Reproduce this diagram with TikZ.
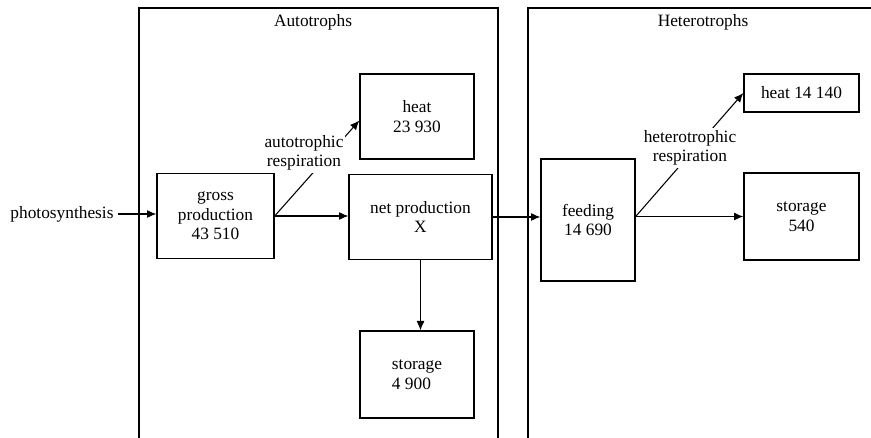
\documentclass[tikz,border=0pt]{standalone}
\usepackage{fontspec}
\setmainfont{Liberation Serif}
\usetikzlibrary{arrows.meta}
\tikzset{
  txt/.style={font=\fontsize{13}{14.6}\selectfont, align=center},
  blk/.style={txt, draw, line width=1pt, inner sep=2pt},
  lbl/.style={txt, fill=white, inner sep=1.5pt},
  flow/.style={-{Latex[length=7pt,width=6pt]}, line width=0.8pt}
}
\begin{document}
\begin{tikzpicture}[x=0.75pt, y=-0.75pt]
\useasboundingbox (0,0) rectangle (871,438);
\draw[line width=1pt] (139,440) |- (498,8) -- (498,440);
\draw[line width=1pt] (528,440) |- (872,8);
\node[txt] (AUT) at (313,22) {Autotrophs};
\node[txt] (HET) at (703,22) {Heterotrophs};

\node[txt] (PS) at (62,214) {photosynthesis};
\node[blk, minimum width=87.75pt, minimum height=63.75pt] (GP) at (215.5,216) {gross\\production\\43 510};
\node[blk, minimum width=85.5pt, minimum height=63.75pt] (HA) at (417,116.5) {heat\\23 930};
\node[blk, minimum width=107.25pt, minimum height=63.75pt] (NP) at (420.5,217) {net production\\X};
\node[blk, minimum width=85.5pt, minimum height=65.25pt, align=left] (SA) at (417,374.5) {storage\\4 900};
\node[blk, minimum width=70.5pt, minimum height=91.5pt] (FD) at (588,220) {feeding\\14 690};
\node[blk, minimum width=86.25pt, minimum height=28.5pt] (HH) at (801.5,93) {heat 14 140};
\node[blk, minimum width=86.25pt, minimum height=65.25pt] (SH) at (801.5,216.5) {storage\\540};

\draw[flow] (PS.east) -- (PS.east -| GP.west);
\draw[flow] (GP.east) -- (GP.east -| NP.west);
\draw[flow] (GP.east) -- ([yshift=-3pt]HA.west);
\node[lbl] (AR) at (304,153) {autotrophic\\respiration};
\draw[flow] (NP.east) -- (NP.east -| FD.west);
\draw[flow] (NP.south) -- (NP.south |- SA.north);
\draw[flow] (SH.west -| FD.east) -- (SH.west);
\draw[flow] (SH.west -| FD.east) -- (HH.west);
\node[lbl] (HR) at (690,148) {heterotrophic\\respiration};
\end{tikzpicture}
\end{document}
